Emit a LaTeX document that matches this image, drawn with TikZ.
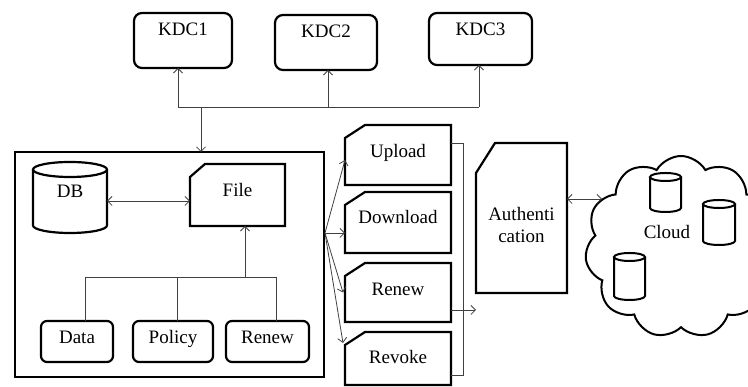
\documentclass[tikz,border=0pt]{standalone}
\usepackage{fontspec}
\setmainfont{Liberation Serif}
\usetikzlibrary{arrows.meta,shapes.symbols,calc}
\newcommand\fs{\fontsize{19}{22}\selectfont}
\newcommand\chamfbox[3]{\draw[line width=2.2pt,line join=miter] ([yshift=-#3]#1.north west) -- ([xshift=#2]#1.north west) -- (#1.north east) -- (#1.south east) -- (#1.south west) -- cycle;}
\newcommand\cylshape[6]{% cx cy w h ry lw
  \draw[line width=#6] (#1-#3/2,#2+#4/2-#5) -- (#1-#3/2,#2-#4/2+#5) arc[start angle=180,end angle=360,x radius={(#3)*0.5pt},y radius={(#5)*1pt}] -- (#1+#3/2,#2+#4/2-#5);
  \draw[line width=#6] (#1,#2+#4/2-#5) ellipse[x radius={(#3)*0.5pt},y radius={(#5)*1pt}];}
\begin{document}
\begin{tikzpicture}[x=1pt,y=1pt,
  kdc/.style={draw,line width=2.2pt,rounded corners=8pt,font=\fs,outer sep=0pt,text height=12pt,text depth=21pt},
  smallbox/.style={draw,line width=2.2pt,rounded corners=6pt,font=\fs,outer sep=0pt,text height=12pt,text depth=7pt,minimum height=41pt},
  plain/.style={font=\fs,outer sep=0pt,text height=12pt,text depth=5pt},
  conn/.style={line width=0.8pt,black!75},
  arr/.style={conn,-{Straight Barb[length=4.5pt,width=9pt]}},
  darr/.style={conn,{Straight Barb[length=4.5pt,width=9pt]}-{Straight Barb[length=4.5pt,width=9pt]}}]
\useasboundingbox (0,0) rectangle (748,387);
\clip (0,0) rectangle (748,387);

% KDC boxes
\node[kdc,minimum width=98pt,minimum height=55pt] (kdc1) at (183,346.5) {KDC1};
\node[kdc,minimum width=102pt,minimum height=55pt] (kdc2) at (326,344.5) {KDC2};
\node[kdc,minimum width=103pt,minimum height=52pt,text depth=19pt] (kdc3) at (480.5,348) {KDC3};

% main box
\node[draw,line width=2.5pt,minimum width=309pt,minimum height=225pt,outer sep=0pt] (main) at (169.5,122.5) {};

% DB
\cylshape{70}{189.5}{74}{71}{7.5}{2.2pt}
\node[plain,minimum width=74pt,minimum height=71pt,text depth=11pt] (db) at (70,189.5) {DB};

% File
\node[plain,minimum width=95pt,minimum height=62pt,text depth=8pt] (file) at (237.5,192) {File};
\chamfbox{file}{15pt}{13pt}

% Data Policy Renew
\node[smallbox,minimum width=72pt] (data) at (77,45.5) {Data};
\node[smallbox,minimum width=80pt] (policy) at (173,45.5) {Policy};
\node[smallbox,minimum width=83pt] (renew) at (267.5,45.5) {Renew};

% right column
\node[plain,minimum width=106pt,minimum height=60pt,text depth=6pt] (up) at (398,232) {Upload};
\chamfbox{up}{20pt}{13pt}
\node[plain,minimum width=106pt,minimum height=61pt,text depth=9pt] (down) at (398,164.5) {Download};
\chamfbox{down}{20pt}{13pt}
\node[plain,minimum width=106pt,minimum height=59pt,text depth=5pt] (ren2) at (398,94.5) {Renew};
\chamfbox{ren2}{20pt}{13pt}
\node[plain,minimum width=106pt,minimum height=53pt,text depth=1pt] (rev) at (398,28.5) {Revoke};
\chamfbox{rev}{20pt}{13pt}

% Authentication
\node[outer sep=0pt,minimum width=91pt,minimum height=150pt,
  label={[font=\fs,align=center,yshift=-7pt]center:Authenti\\cation}] (auth) at (521.5,169) {};
\chamfbox{auth}{19pt}{30pt}

% Cloud
\node[cloud,draw,line width=2pt,cloud puffs=11,cloud puff arc=120,aspect=1.05,
  minimum width=192pt,minimum height=182pt,
  label={[font=\fs,xshift=-14pt,yshift=15pt]center:Cloud}] (cloud) at (681,140) {};
\cylshape{665.5}{194.5}{31}{39}{4}{2pt}
\cylshape{719}{164.5}{32}{45}{4}{2pt}
\cylshape{629.5}{110.5}{31}{47}{4}{2pt}

% KDC connectors
\coordinate (b1) at (178,280);
\coordinate (b2) at (328,280);
\coordinate (b3) at (479,280);
\coordinate (bd) at (201,280);
\draw[conn] (b1) -- (b3);
\draw[arr] (b1) -- (b1 |- kdc1.south);
\draw[arr] (b2) -- (b2 |- kdc2.south);
\draw[arr] (b3) -- (b3 |- kdc3.south);
\draw[arr] (bd) -- (bd |- main.north);

% inside main
\draw[darr] ([yshift=-3.5pt]db.east) -- ([yshift=-6pt]file.west);
\coordinate (fb) at (245,110);
\coordinate (l1) at (85,110);
\coordinate (l2) at (177,110);
\coordinate (l3) at (276,110);
\draw[arr] (fb) -- (fb |- file.south);
\draw[conn] (l1) -- (l3);
\draw[conn] (l1) -- (l1 |- data.north);
\draw[conn] (l2) -- (l2 |- policy.north);
\draw[conn] (l3) -- (l3 |- renew.north);

% fan
\coordinate (fan) at (325,154);
\draw[arr] (fan) -- ([yshift=-5pt]up.west);
\draw[arr] (fan) -- ([yshift=-10.5pt]down.west);
\draw[arr] (fan) -- ([xshift=-2pt]ren2.west);
\draw[arr] (fan) -- ([xshift=-2pt,yshift=15.5pt]rev.west);

% bracket
\coordinate (brt) at (463,244);
\coordinate (brb) at (463,12);
\draw[conn] (up.east |- brt) -- (brt) -- (brb) -- (rev.east |- brb);
\path ([yshift=-17.5pt]ren2.east) coordinate (ra);
\draw[arr] (ra) -- (ra -| auth.west);

% auth - cloud
\coordinate (cin) at (602,188);
\draw[darr] (auth.east |- cin) -- (cin);
\end{tikzpicture}
\end{document}
